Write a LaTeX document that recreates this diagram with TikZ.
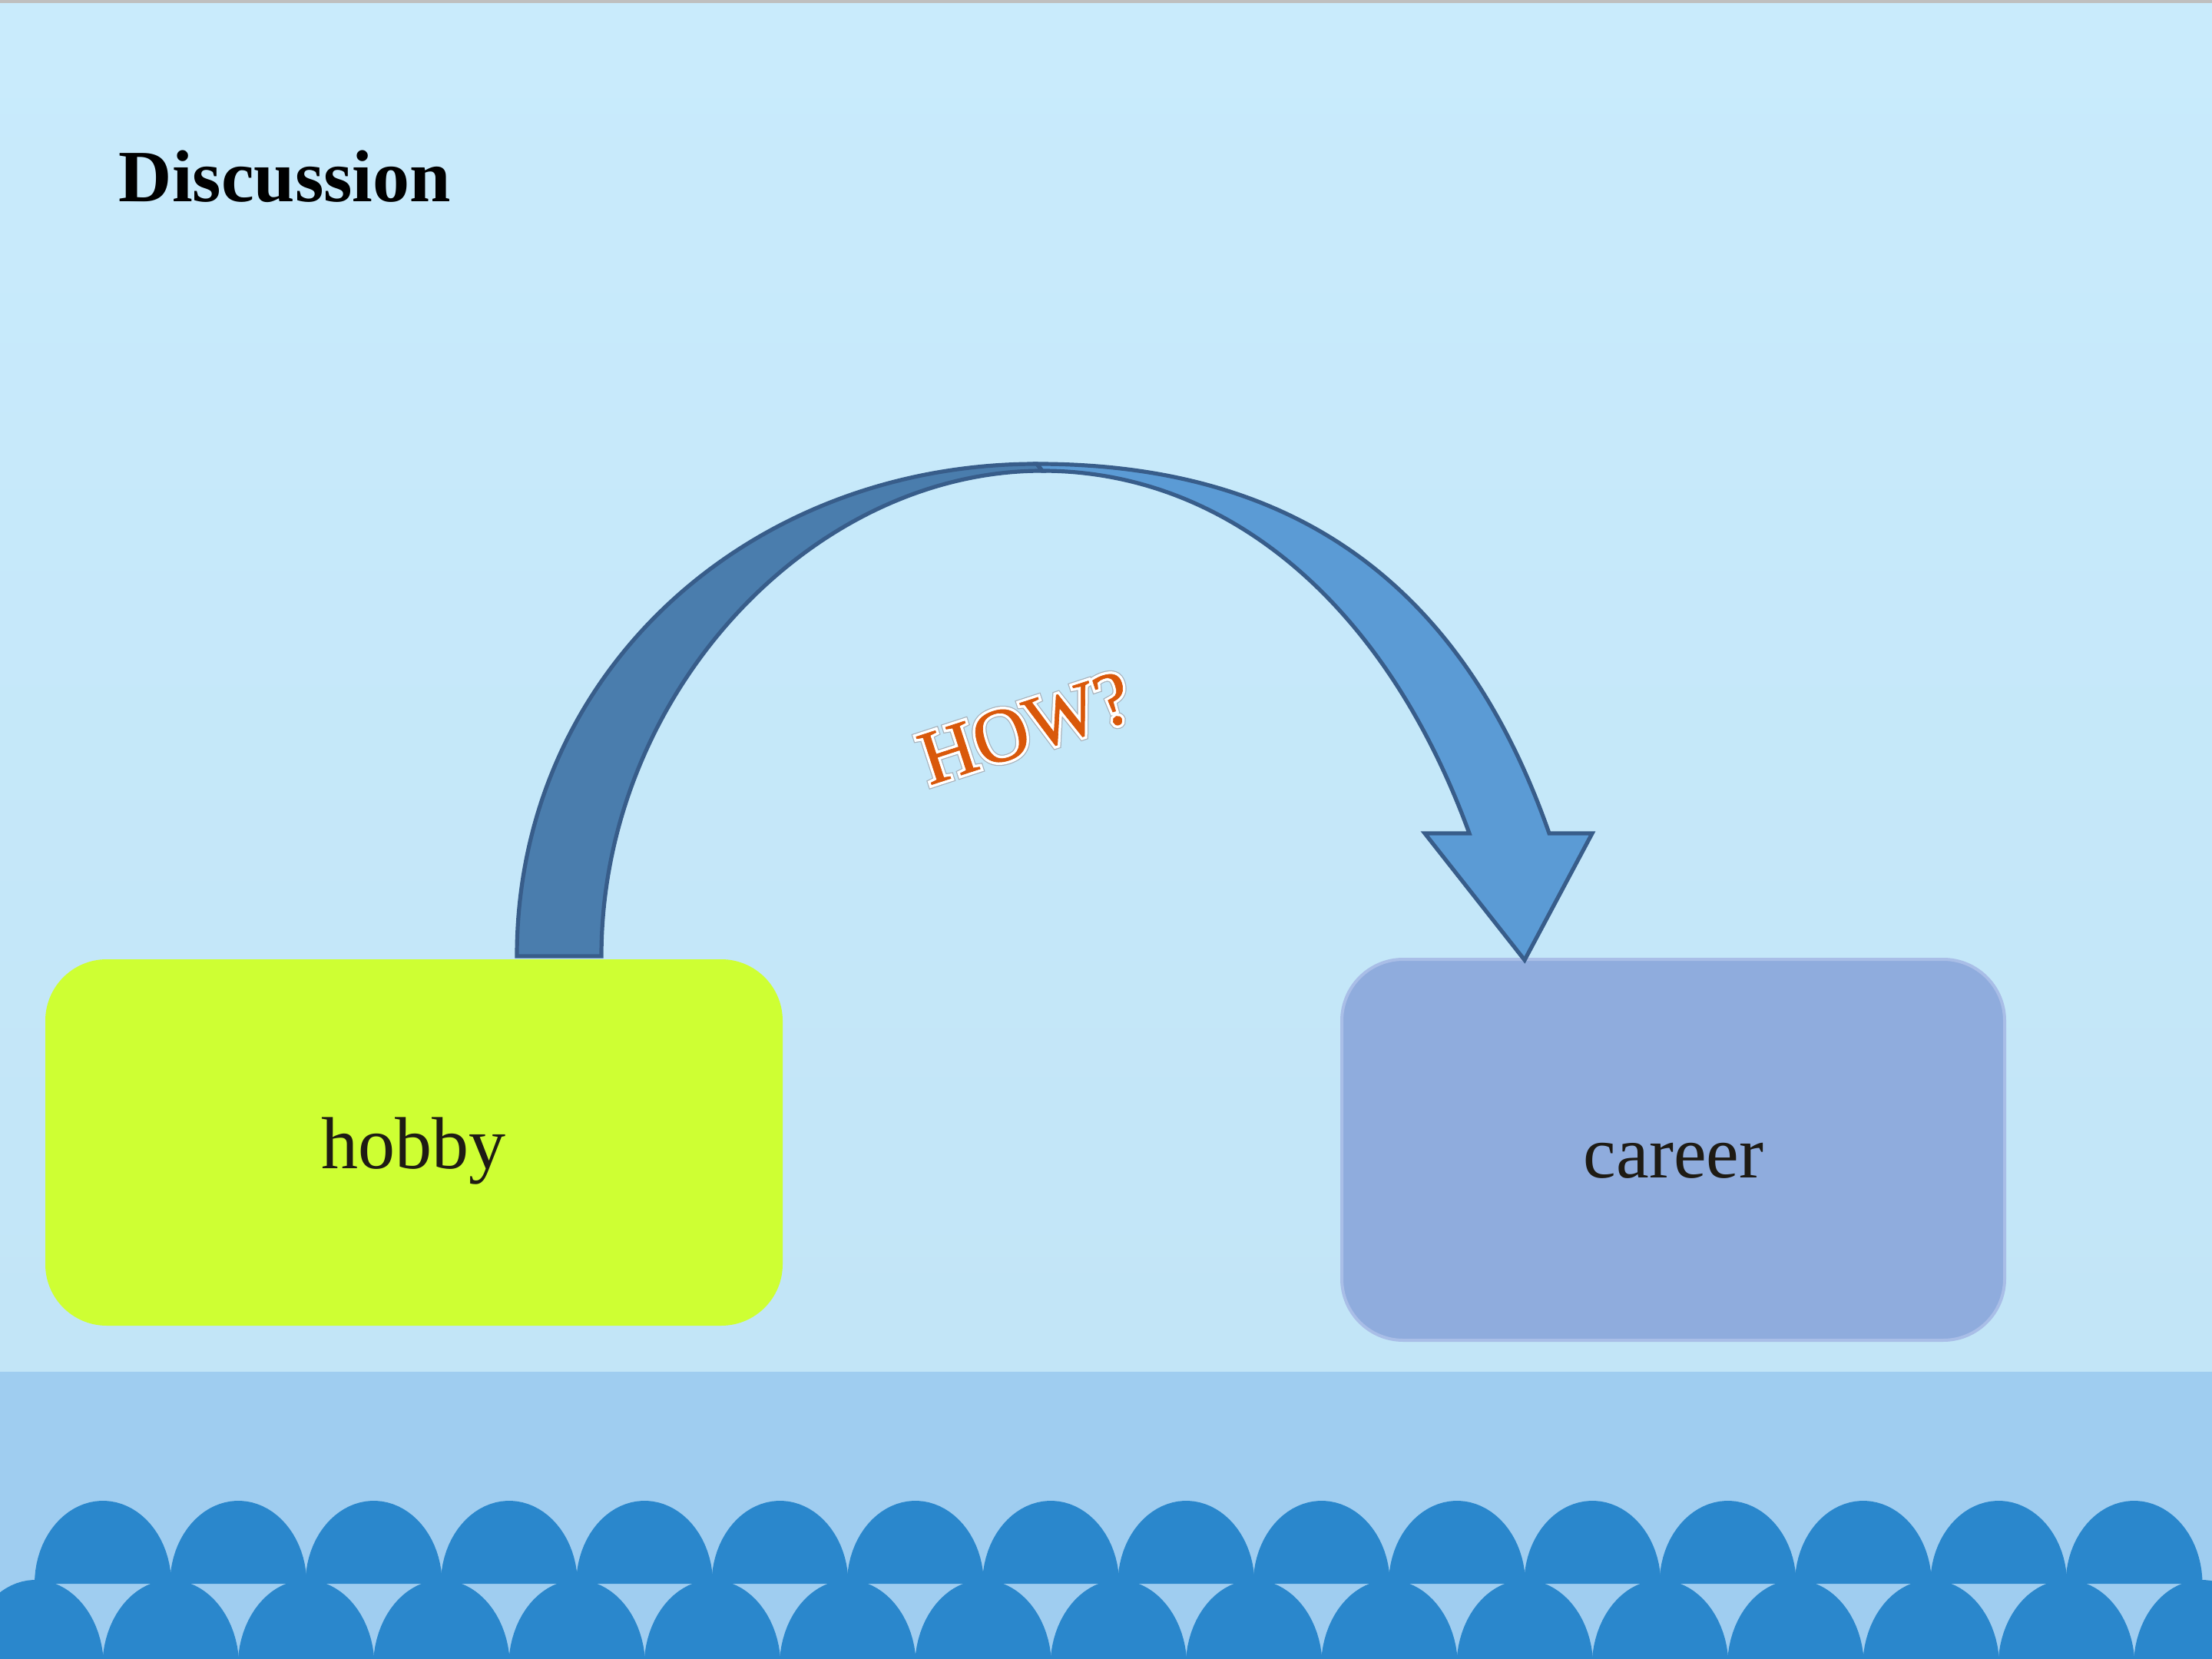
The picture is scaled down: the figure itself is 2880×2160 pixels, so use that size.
\documentclass[tikz,border=0pt]{standalone}
\usepackage{fontspec}
\setmainfont{Liberation Serif}
\newfontfamily\howhaloA[FakeBold=10]{Liberation Serif}
\newfontfamily\howhaloB[FakeBold=7.5]{Liberation Serif}
\newfontfamily\howmain[FakeBold=0.6]{Liberation Serif}
\definecolor{bgtop}{HTML}{C9EBFC}
\definecolor{bgbot}{HTML}{C2E5F7}
\definecolor{band}{HTML}{9FCDF0}
\definecolor{scal}{HTML}{2A87CC}
\definecolor{hobbyc}{HTML}{CEFF33}
\definecolor{careerc}{HTML}{8FACDD}
\definecolor{careerb}{HTML}{A9BEE7}
\definecolor{arrdark}{HTML}{4A7DAD}
\definecolor{arrlight}{HTML}{5B9BD5}
\definecolor{arrline}{HTML}{385D8A}
\definecolor{howc}{HTML}{D9580A}
\definecolor{haloline}{HTML}{A9B3BC}
\definecolor{txtc}{HTML}{1E1B14}
\begin{document}
\begin{tikzpicture}[x=0.25pt,y=-0.25pt,
  boxstyle/.style={rounded corners=20pt, inner sep=0pt, outer sep=0pt},
  lbl/.style={font=\fontsize{24}{28}\selectfont, text=txtc, inner sep=0pt, anchor=base},
  arrowpart/.style={draw=arrline, line width=1.3pt, line join=miter},
  howstyle/.style={inner sep=0pt, rotate=18},
  scallop/.style={fill=scal}]
\useasboundingbox (0,0) rectangle (2880,2160);
% background
\shade[top color=bgtop, bottom color=bgbot] (0,0) rectangle (2880,1786);
\fill[band] (0,1786) rectangle (2880,2160);
\fill[black!25] (0,0) rectangle (2880,4);
% scallops
\begin{scope}
\clip (0,1786) rectangle (2880,2160);
\foreach \k in {0,...,15}{
  \fill[scallop] plot[domain=0:180, samples=40] ({134+176.3*\k+89*cos(\x)},{2062-108*sin(\x)}) -- cycle;
}
\foreach \k in {0,...,16}{
  \fill[scallop] plot[domain=0:180, samples=40] ({46+176.3*\k+89*cos(\x)},{2170-113*sin(\x)}) -- cycle;
}
\end{scope}
% title
\node[font=\fontsize{24}{28}\selectfont\bfseries, inner sep=0pt, anchor=base west] (title) at (154,263) {Discussion};
% boxes
\node[boxstyle, fill=hobbyc, minimum width=240pt, minimum height=119.25pt] (hobby) at (539,1487.5) {};
\node[boxstyle, fill=careerc, draw=careerb, line width=1pt, minimum width=215.75pt, minimum height=124pt] (career) at (2178.5,1497) {};
\node[lbl] (hobbytxt) at (538,1521) {hobby};
\node[lbl] (careertxt) at (2179,1533) {career};
% curved arrow coordinates
\coordinate (footO) at (673,1245);
\coordinate (footI) at (783,1245);
\coordinate (topO) at (1350,604);
\coordinate (apex) at (1357,613);
\coordinate (shO) at (2017,1085);
\coordinate (shI) at (1913,1085);
\coordinate (headR) at (2073,1085);
\coordinate (headL) at (1855,1085);
\coordinate (tip) at (1985,1250);
% back (dark) part
\filldraw[arrowpart, fill=arrdark]
  (footO) .. controls (673,875) and (975,604) .. (topO) -- (apex)
  .. controls (1055,613) and (783,905) .. (footI) -- cycle;
% front (light) part with head
\filldraw[arrowpart, fill=arrlight]
  (topO) .. controls (1680,604) and (1901.5,755) .. (shO) -- (headR) -- (tip) -- (headL) -- (shI)
  .. controls (1803.5,785) and (1597,613) .. (apex) -- cycle;
% HOW?
\node[howstyle, font=\fontsize{25}{30}\selectfont\howhaloA, text=haloline] (howA) at (1335,948) {HOW?};
\node[howstyle, font=\fontsize{25}{30}\selectfont\howhaloB, text=white] (howB) at (1335,948) {HOW?};
\node[howstyle, font=\fontsize{25}{30}\selectfont\howmain, text=howc] (how) at (1335,948) {HOW?};
\end{tikzpicture}
\end{document}
